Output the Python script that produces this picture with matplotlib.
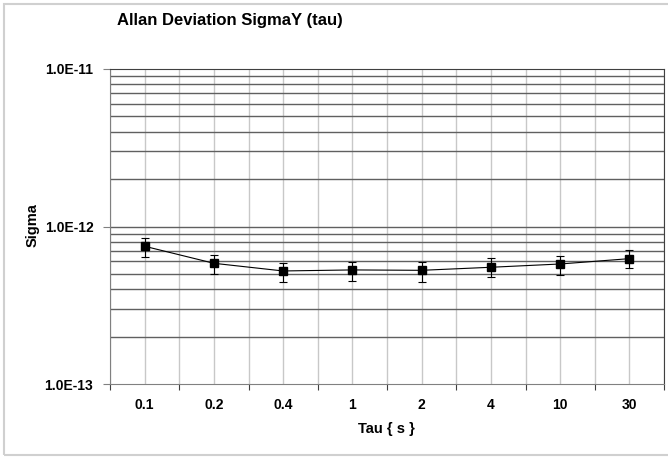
import numpy as np
import matplotlib.pyplot as plt
from matplotlib.patches import Rectangle
from matplotlib.ticker import FixedLocator, NullFormatter

plt.rcParams['font.family'] = ['Liberation Sans', 'DejaVu Sans']

# data
tau_labels = ['0.1', '0.2', '0.4', '1', '2', '4', '10', '30']
sigma      = [7.49e-13, 5.84e-13, 5.22e-13, 5.30e-13, 5.27e-13, 5.51e-13, 5.78e-13, 6.25e-13]
sigma_hi   = [8.42e-13, 6.56e-13, 5.87e-13, 5.96e-13, 5.96e-13, 6.28e-13, 6.50e-13, 7.14e-13]
sigma_lo   = [6.41e-13, 5.02e-13, 4.43e-13, 4.49e-13, 4.47e-13, 4.75e-13, 4.95e-13, 5.43e-13]

W, H = 668, 457
fig = plt.figure(figsize=(W/100, H/100), dpi=100)
fig.patches.append(Rectangle((4/W, 1 - 455/H), 1.0, 451/H, transform=fig.transFigure,
                             fill=False, edgecolor='#d0d0d0', lw=1.5))

ax = fig.add_axes([110/W, 1 - 384/H, 554/W, 315/H])
x = np.arange(len(tau_labels))
sig = np.array(sigma)
yerr = [sig - np.array(sigma_lo), np.array(sigma_hi) - sig]

ax.set_yscale('log')
ax.set_ylim(1e-13, 1e-11)
ax.set_xlim(-0.5, len(tau_labels) - 0.5)

# gridlines: vertical light gray every half category
for xv in np.arange(-0.5, len(tau_labels), 0.5):
    ax.axvline(xv, color='#c8c8c8', lw=1, zorder=0)
# horizontal dark gray at decade subdivisions
for dec in [1e-13, 1e-12]:
    for m in range(2, 10):
        ax.axhline(m*dec, color='#606060', lw=1, zorder=0.5)
ax.axhline(1e-12, color='#606060', lw=1, zorder=0.5)
ax.axhline(1e-11, color='#303030', lw=1.2, zorder=0.5)

ax.plot(x, sig, color='black', lw=0.8, zorder=2)
ax.errorbar(x, sig, yerr=yerr, fmt='none', ecolor='black', elinewidth=0.8,
            capsize=3, capthick=0.8, zorder=3)
ax.plot(x, sig, 's', color='black', ms=6, zorder=4)

ax.yaxis.set_major_locator(FixedLocator([1e-13, 1e-12, 1e-11]))
ax.yaxis.set_minor_locator(FixedLocator([]))
ax.yaxis.set_minor_formatter(NullFormatter())
ax.set_yticklabels(['1.0E-13', '1.0E-12', '1.0E-11'], fontsize=10, fontweight='bold')
ax.tick_params(axis='y', length=5, color='#808080', pad=7)

ax.set_xticks(np.arange(-0.5, len(tau_labels), 1.0))
ax.set_xticklabels([])
ax.set_xticks(x, minor=True)
ax.set_xticklabels(tau_labels, minor=True, fontsize=10, fontweight='bold')
ax.tick_params(axis='x', which='major', length=4, color='#404040', direction='out')
ax.tick_params(axis='x', which='minor', length=0, pad=10)

for s in ['left', 'bottom']:
    ax.spines[s].set_color('#808080')
for s in ['top', 'right']:
    ax.spines[s].set_color('#404040')

ax.set_xlabel('Tau { s }', fontsize=10.5, fontweight='bold', labelpad=8)
ax.xaxis.set_label_coords((386 - 110)/554, -(429 - 384)/315)
ax.set_ylabel('Sigma', fontsize=10.5, fontweight='bold', labelpad=10)
ax.yaxis.set_label_coords(-(110 - 33)/554, (384 - 225)/315)
ax.yaxis.label.set_va('center')
ax.xaxis.label.set_va('center')

fig.text(117/W, 1 - 21/H, 'Allan Deviation SigmaY (tau)', fontsize=12,
         fontweight='bold', va='center', ha='left')

fig.savefig('out.png', dpi=100)
